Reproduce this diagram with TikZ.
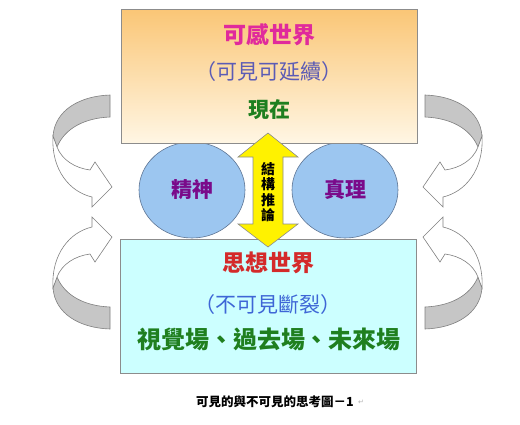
\documentclass[tikz,border=0pt]{standalone}
\usepackage{fontspec}
\newfontfamily\cjk{Noto Sans CJK TC}
\newfontfamily\symb{DejaVu Sans}
\usetikzlibrary{shapes.geometric,calc}
\definecolor{sensetop}{HTML}{FAC676}
\definecolor{sensebot}{HTML}{FFF6E4}
\definecolor{thinkfill}{HTML}{CCFFFF}
\definecolor{edge}{HTML}{8C8C8C}
\definecolor{orb}{HTML}{9CC6F0}
\definecolor{orbedge}{HTML}{5E7594}
\definecolor{swirlgrey}{HTML}{C6C6C6}
\definecolor{pinkhead}{HTML}{E02A9C}
\definecolor{lilac}{HTML}{5B5BB5}
\definecolor{leaf}{HTML}{1F7F1F}
\definecolor{redhead}{HTML}{D42A2A}
\definecolor{skyblue}{HTML}{3E66D6}
\definecolor{plum}{HTML}{7A0A8A}

\begin{document}
\begin{tikzpicture}[x=1pt, y=-1pt,
    world/.style={draw=edge, line width=0.8pt, minimum width=296pt, minimum height=134pt, inner sep=0pt},
    orbnode/.style={ellipse, draw=orbedge, fill=orb, line width=0.6pt, minimum width=106pt,
      minimum height=96pt, inner sep=0pt, text=plum, font=\cjk\bfseries\fontsize{21}{24}\selectfont},
    head/.style={font=\cjk\bfseries\fontsize{23}{26}\selectfont},
    sub/.style={font=\cjk\fontsize{21}{24}\selectfont},
    band/.style={draw=gray, line width=0.6pt}]
  \fill[white] (0,0) rectangle (520,424);
  \useasboundingbox (0,0) rectangle (520,424);
  % turning arrows on both sides: grey back, white front
  \foreach \sx/\sy in {1/1, -1/1, 1/-1, -1/-1} {
    \begin{scope}[shift={({(1-\sx)*267.5},{(1-\sy)*212})}, xscale=\sx, yscale=\sy]
      \filldraw[band, fill=swirlgrey] (110,95) .. controls (80,96) and (55,110) .. (53,136)
        -- (57,147) .. controls (65,128) and (85,118) .. (110,117) -- cycle;
      \filldraw[band, fill=white] (53,136) .. controls (51,170) and (70,192) .. (92,197)
        -- (92,207) -- (112,187) -- (95,162) -- (90,170)
        .. controls (75,168) and (62,160) .. (57,147) -- cycle;
    \end{scope}
  }
  \node[orbnode] (spirit) at (192,190) {精神};
  \node[orbnode] (truth) at (345,190) {真理};
  % the two worlds
  \node[world, top color=sensetop, bottom color=sensebot] (sense) at (269,76) {};
  \node[world, fill=thinkfill] (think) at (268.5,306) {};
  \node[head, text=pinkhead] (sensetitle) at (269,35) {可感世界};
  \node[sub, text=lilac] (sensesub) at (269,72) {（可見可延續）};
  \node[head, text=leaf, font=\cjk\bfseries\fontsize{21}{24}\selectfont] (sensenow) at (269,110) {現在};
  \node[head, text=redhead] (thinktitle) at (268,263) {思想世界};
  \node[sub, text=skyblue] (thinksub) at (268,305) {（不可見斷裂）};
  \node[head, text=leaf, font=\cjk\bfseries\fontsize{24}{26}\selectfont] (thinkfields) at (269,339)
    {視覺場、過去場、未來場};
  % reasoning arrow between the worlds
  \coordinate (uptip) at (268,133);
  \draw[draw=edge, fill=yellow, line width=0.6pt] (uptip) -- ++(30,24) -- ++(-15,0) -- ++(0,67)
    -- ++(15,0) -- ++(-30,23) coordinate (downtip) -- ++(-30,-23) -- ++(15,0) -- ++(0,-67)
    -- ++(-15,0) -- cycle;
  \node[font=\cjk\bfseries\fontsize{14}{15.5}\selectfont, align=center, inner sep=0pt] (infer)
    at (268,192) {結\\構\\推\\論};
  \node[font=\cjk\bfseries\fontsize{12.5}{14}\selectfont] (caption) at (275,402)
    {可見的與不可見的思考圖－1};
  \node[font=\symb\fontsize{7}{8}\selectfont, text=gray!60, anchor=west, inner sep=0.5pt] (retmark)
    at (caption.east) {↵};
\end{tikzpicture}
\end{document}
